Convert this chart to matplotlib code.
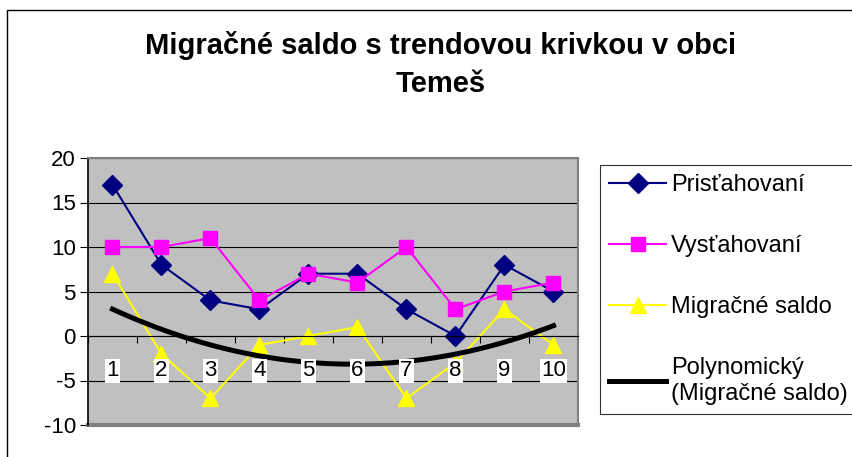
import matplotlib.pyplot as plt
import numpy as np
from matplotlib.patches import Rectangle

plt.rcParams['font.family'] = ['Liberation Sans', 'DejaVu Sans']
plt.rcParams['axes.unicode_minus'] = False

categories = ['1', '2', '3', '4', '5', '6', '7', '8', '9', '10']
pristahovani = [17, 8, 4, 3, 7, 7, 3, 0, 8, 5]
vystahovani = [10, 10, 11, 4, 7, 6, 10, 3, 5, 6]
saldo = [7, -2, -7, -1, 0, 1, -7, -3, 3, -1]

x = np.arange(1, len(categories) + 1)
coef = np.polyfit(x, saldo, 2)
xs = np.linspace(1, len(categories), 200)
trend = np.polyval(coef, xs)

fig = plt.figure(figsize=(8.53, 4.57), dpi=100)
fig.patches.append(Rectangle((7 / 853, -0.1), 1.1, 1 - 10 / 457 + 0.1,
                             transform=fig.transFigure, fill=False,
                             edgecolor='black', linewidth=1))

ax = fig.add_axes([88 / 853, 1 - 425 / 457, 490 / 853, 267 / 457])
ax.set_facecolor('#C0C0C0')
ax.set_xlim(0.5, len(categories) + 0.5)
ax.set_ylim(-10, 20)
ax.set_yticks(range(-10, 21, 5))
ax.grid(axis='y', color='black', linewidth=0.8)
ax.set_axisbelow(True)

h1, = ax.plot(x, pristahovani, color='#000080', marker='D', markersize=10.5,
              linewidth=1.5, label='Prisťahovaní')
h2, = ax.plot(x, vystahovani, color='#FF00FF', marker='s', markersize=9.5,
              linewidth=1.5, label='Vysťahovaní')
h3, = ax.plot(x, saldo, color='#FFFF00', marker='^', markersize=12,
              linewidth=1.5, label='Migračné saldo')
h4, = ax.plot(xs, trend, color='black', linewidth=3.6,
              label='Polynomický\n(Migračné saldo)')

for xi, lab in zip(x, categories):
    ax.text(xi, -3.9, lab, ha='center', va='center', fontsize=16,
            bbox=dict(facecolor='white', edgecolor='none', pad=1))

ax.spines['bottom'].set_position(('data', 0))
ax.spines['bottom'].set_color('black')
ax.spines['bottom'].set_linewidth(0.8)
ax.set_xticks(np.arange(0.5, len(categories) + 1, 1))
ax.set_xticklabels([])
ax.tick_params(axis='x', direction='out', length=5, color='black')
ax.tick_params(axis='y', direction='out', length=5.8, labelsize=16, pad=3)
ax.spines['left'].set_color('black')
ax.spines['left'].set_linewidth(1.2)
for s in ['top', 'right']:
    ax.spines[s].set_color('#808080')
    ax.spines[s].set_linewidth(1.5)
# gray bottom border of plot area
ax.axhline(-10, color='#808080', linewidth=3, clip_on=False)

fig.text(0.517, 0.858, 'Migračné saldo s trendovou krivkou v obci\nTemeš',
         ha='center', va='center', fontsize=21, fontweight='bold',
         linespacing=1.45)

leg = fig.legend(handles=[h1, h2, h3, h4], loc='upper left',
                 bbox_to_anchor=(600 / 853, 1 - 165 / 457), fontsize=17,
                 frameon=True, fancybox=False, edgecolor='black',
                 labelspacing=1.65, handlelength=2.4, handletextpad=0.2,
                 borderpad=0.4, borderaxespad=0)
leg.get_frame().set_linewidth(0.8)

fig.savefig('out.png', dpi=100)
